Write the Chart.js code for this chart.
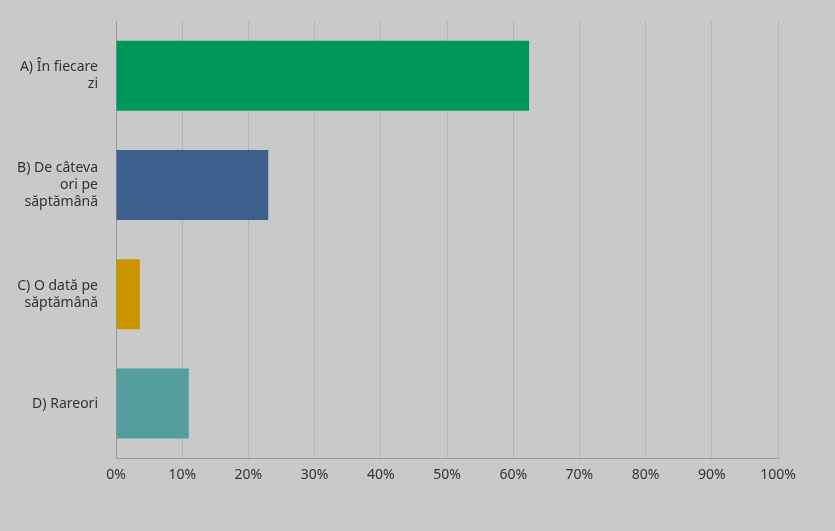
<!DOCTYPE html>
<html><head><meta charset="utf-8">
<script src="https://cdn.jsdelivr.net/npm/chart.js@4/dist/chart.umd.min.js"></script>
<style>html,body{margin:0;padding:0;background:#c9c9c9;}#w{width:835px;height:531px;}</style>
</head><body><div id="w"><canvas id="c"></canvas></div>
<script>
const categories=[["A) În fiecare","zi"],["B) De câteva","ori pe","săptămână"],["C) O dată pe","săptămână"],["D) Rareori"]];
const values=[62.4,23.0,3.6,11.0];
const colors=["#00975a","#3d5f8d","#c99600","#559e9f"];
const ticks=["0%","10%","20%","30%","40%","50%","60%","70%","80%","90%","100%"];
new Chart(document.getElementById('c'),{type:'bar',
data:{labels:categories,datasets:[{data:values,backgroundColor:colors,barPercentage:0.64,categoryPercentage:1}]},
options:{indexAxis:'y',responsive:true,maintainAspectRatio:false,animation:false,
layout:{padding:{top:21,right:57,bottom:40,left:0}},
plugins:{legend:{display:false},tooltip:{enabled:false}},
scales:{
x:{min:0,max:100,ticks:{stepSize:10,color:'#333',font:{family:'Noto Sans',size:14},padding:8,callback:(v,i)=>ticks[i]},
 grid:{color:'#b4b4b4',drawTicks:false},border:{color:'#999'}},
y:{ticks:{color:'#333',font:{family:'Noto Sans',size:14},padding:10},grid:{display:false},border:{color:'#999'},
 afterFit:s=>{s.width=116;}}
}}});
</script></body></html>
